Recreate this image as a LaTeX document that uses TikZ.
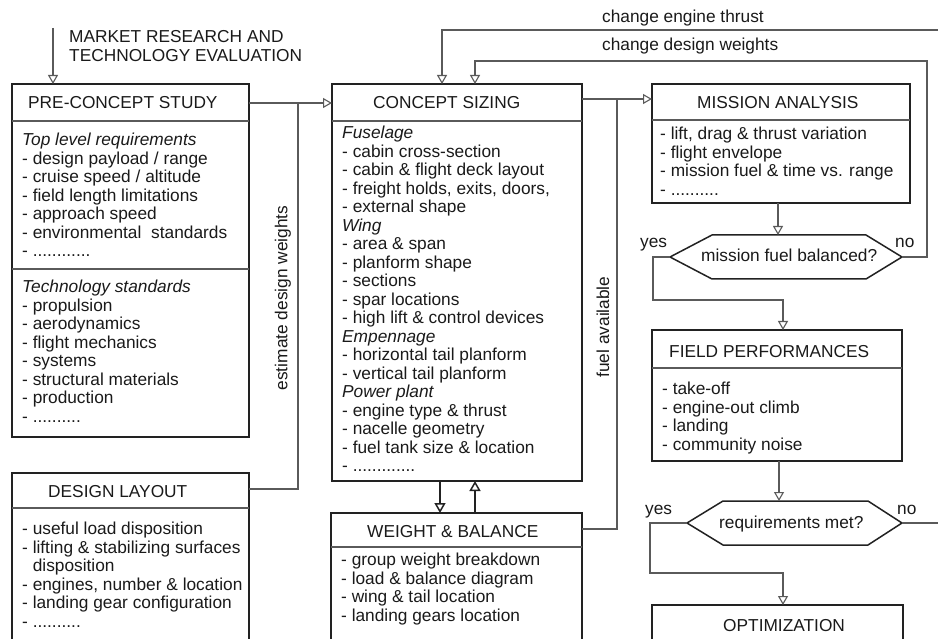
\documentclass[tikz,border=0pt]{standalone}
\usepackage{fontspec}
\setmainfont{Liberation Sans}
\usetikzlibrary{arrows.meta,calc}
\definecolor{boxc}{HTML}{222222}
\definecolor{linec}{HTML}{5A5A5A}
\definecolor{txtc}{HTML}{1A1A1A}
\begin{document}
\begin{tikzpicture}[x=1pt,y=-1pt,
  box/.style={draw=boxc, line width=1.8pt, fill=white, anchor=north west, inner sep=0pt, outer sep=0pt},
  conn/.style={draw=linec, line width=1.1pt},
  arr/.style={conn, -{Triangle[open, length=9pt, width=10pt, line width=1.1pt]}},
  thickarr/.style={draw=boxc, line width=2.4pt, -{Triangle[open, length=10pt, width=11pt, line width=1.5pt]}},
  divl/.style={draw=linec, line width=1.1pt},
  hexd/.style={draw=boxc, line width=1.5pt, fill=white},
  txt/.style={anchor=north west, inner sep=0pt, align=left, font=\fontsize{17.3}{18.5}\selectfont, text=txtc},
  ttl/.style={anchor=base west, inner sep=0pt, font=\fontsize{17.3}{18.5}\selectfont, text=txtc},
  lbl/.style={anchor=center, inner sep=0pt, font=\fontsize{17.3}{18.5}\selectfont, text=txtc},
  hexnode/.style={inner sep=0pt, outer sep=0pt},
]
\useasboundingbox (0,0) rectangle (938,639);
\clip (0,0) rectangle (938,639);
\fill[white] (0,0) rectangle (938,639);

% ---------- boxes ----------
\node[box, minimum width=237pt, minimum height=353pt] (pre) at (12,84) {};
\node[box, minimum width=250pt, minimum height=397pt] (cs) at (332,84) {};
\node[box, minimum width=237pt, minimum height=220pt] (dl) at (12,473) {};
\node[box, minimum width=251pt, minimum height=180pt] (wb) at (331,513) {};
\node[box, minimum width=258pt, minimum height=119pt] (ma) at (652,84) {};
\node[box, minimum width=250pt, minimum height=131pt] (fp) at (652,330) {};
\node[box, minimum width=251pt, minimum height=80pt] (opt) at (652,605) {};

% dividers
\draw[divl] ($(pre.north west)+(0,37)$) -- ($(pre.north east)+(0,37)$);
\draw[divl] ($(pre.north west)+(0,185)$) -- ($(pre.north east)+(0,185)$);
\draw[divl] ($(cs.north west)+(0,37)$) -- ($(cs.north east)+(0,37)$);
\draw[divl] ($(ma.north west)+(0,36)$) -- ($(ma.north east)+(0,36)$);
\draw[divl] ($(fp.north west)+(0,38)$) -- ($(fp.north east)+(0,38)$);
\draw[divl] ($(dl.north west)+(0,35)$) -- ($(dl.north east)+(0,35)$);
\draw[divl] ($(wb.north west)+(0,34)$) -- ($(wb.north east)+(0,34)$);

% titles
\node[ttl] (preT) at (28,109) {PRE-CONCEPT STUDY};
\node[ttl] (csT) at (373,109) {CONCEPT SIZING};
\node[ttl] (maT) at (697,109) {MISSION ANALYSIS};
\node[ttl] (fpT) at (669,357) {FIELD PERFORMANCES};
\node[ttl] (dlT) at (48,497) {DESIGN LAYOUT};
\node[ttl] (wbT) at (367,537) {WEIGHT \& BALANCE};
\node[ttl] (optT) at (723,631) {OPTIMIZATION};

% lists
\node[txt] (preL1) at (22,132.5) {\strut\textit{Top level requirements}\\
- design payload / range\\
- cruise speed / altitude\\
- field length limitations\\
- approach speed\\
- environmental\hspace{5pt} standards\\
- ............};
\node[txt] (preL2) at (22,279.5) {\strut\textit{Technology standards}\\
- propulsion\\
- aerodynamics\\
- flight mechanics\\
- systems\\
- structural materials\\
- production\\
- ..........};
\node[txt] (csL) at (342,125.5) {\strut\textit{Fuselage}\\
- cabin cross-section\\
- cabin \& flight deck layout\\
- freight holds, exits, doors,\\
- external shape\\
\textit{Wing}\\
- area \& span\\
- planform shape\\
- sections\\
- spar locations\\
- high lift \& control devices\\
\textit{Empennage}\\
- horizontal tail planform\\
- vertical tail planform\\
\textit{Power plant}\\
- engine type \& thrust\\
- nacelle geometry\\
- fuel tank size \& location\\
- .............};
\node[txt] (maL) at (660,126.5) {\strut- lift, drag \& thrust variation\\
- flight envelope\\
- mission fuel \& time vs. range\\
- ..........};
\node[txt] (fpL) at (662,381.5) {\strut- take-off\\
- engine-out climb\\
- landing\\
- community noise};
\node[txt] (dlL) at (22,521.5) {\strut- useful load disposition\\
- lifting \& stabilizing surfaces\\
\hspace*{10.6pt}disposition\\
- engines, number \& location\\
- landing gear configuration\\
- ..........};
\node[txt] (wbL) at (341,552.5) {\strut- group weight breakdown\\
- load \& balance diagram\\
- wing \& tail location\\
- landing gears location};

% ---------- decisions ----------
\node[hexnode, minimum width=232pt, minimum height=44pt] (d1) at (786,257) {};
\draw[hexd] (d1.west) -- ($(d1.north west)+(42,0)$) -- ($(d1.north east)+(-36,0)$) -- (d1.east)
  -- ($(d1.south east)+(-36,0)$) -- ($(d1.south west)+(42,0)$) -- cycle;
\node[ttl] (d1T) at (701,262) {mission fuel balanced?};

\node[hexnode, minimum width=215pt, minimum height=44pt] (d2) at (794.5,523) {};
\draw[hexd] (d2.west) -- ($(d2.north west)+(36,0)$) -- ($(d2.north east)+(-34,0)$) -- (d2.east)
  -- ($(d2.south east)+(-34,0)$) -- ($(d2.south west)+(36,0)$) -- cycle;
\node[ttl] (d2T) at (719,528) {requirements met?};

% ---------- connectors ----------
\coordinate (mk) at (53,28);
\draw[arr] (mk) -- (mk |- pre.north);
\draw[arr] (pre.east |- 0,103) -- (cs.west |- 0,103);
\coordinate (j1) at (298,103);
\draw[conn] (dl.east |- 0,489) -| (j1);
\draw[arr] (cs.east |- 0,99) -- (ma.west |- 0,99);
\coordinate (j2) at (617,99);
\draw[conn] (wb.east |- 0,529) -| (j2);

\coordinate (et) at (940,30);
\draw[arr] (et) -| ($(cs.north west)+(110,0)$);
\coordinate (n1) at (927,61);
\draw[arr] (d1.east) -| (n1) -| ($(cs.north west)+(143,0)$);

\coordinate (m1) at ($(ma.south west)+(126,0)$);
\draw[arr] (m1) -- (m1 |- d1.north);
\coordinate (y1) at (653,300);
\coordinate (f1) at ($(fp.north west)+(131,0)$);
\draw[arr] (d1.west) -| (y1) -| (f1);

\coordinate (m2) at ($(fp.south west)+(127,0)$);
\draw[arr] (m2) -- (m2 |- d2.north);
\coordinate (n2) at (940,523);
\draw[conn] (d2.east) -- (n2);
\coordinate (y2) at (650,573);
\coordinate (o1) at ($(opt.north west)+(131,0)$);
\draw[arr] (d2.west) -| (y2) -| (o1);

\coordinate (a1) at ($(cs.south west)+(108,0)$);
\draw[thickarr] (a1) -- (a1 |- wb.north);
\coordinate (a2) at ($(wb.north west)+(144,0)$);
\draw[thickarr] (a2) -- (a2 |- cs.south);

% ---------- labels ----------
\node[ttl] (mr1) at (69,43) {MARKET RESEARCH AND};
\node[ttl] (mr2) at (69,62) {TECHNOLOGY EVALUATION};
\node[ttl] (cet) at (602,23) {change engine thrust};
\node[ttl] (cdw) at (602,51) {change design weights};
\node[ttl] (yes1) at (640,248) {yes};
\node[ttl] (no1) at (895,248) {no};
\node[ttl] (yes2) at (645,514) {yes};
\node[ttl] (no2) at (897,514) {no};
\node[lbl, rotate=90] (edw) at (283,298) {estimate design weights};
\node[lbl, rotate=90] (fa) at (603,327) {fuel available};
\end{tikzpicture}
\end{document}
